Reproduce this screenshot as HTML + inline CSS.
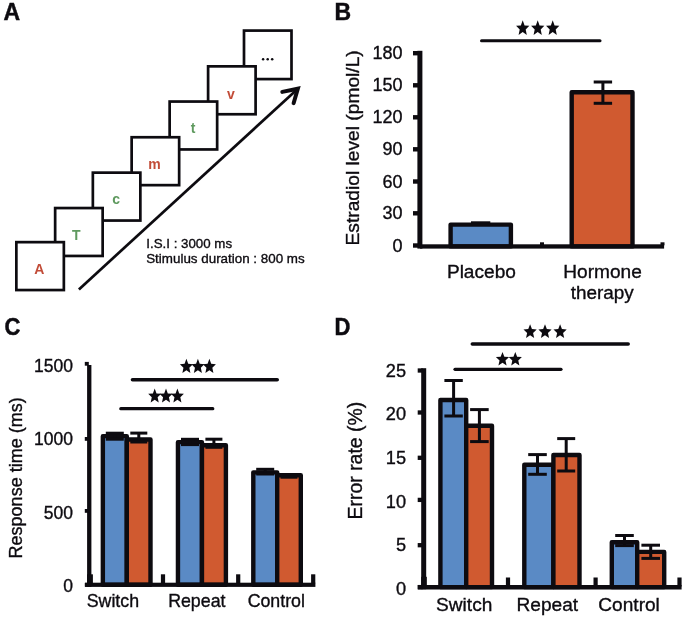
<!DOCTYPE html>
<html><head><meta charset="utf-8"><title>Figure</title>
<style>
html,body{margin:0;padding:0;background:#fff;}
body{width:685px;height:619px;overflow:hidden;}
svg{display:block;font-family:"Liberation Sans",sans-serif;will-change:transform;}
</style></head><body>
<svg width="685" height="619" viewBox="0 0 685 619">
<text font-size="23" font-weight="bold" fill="#0d0b10" stroke="#0d0b10" stroke-width="0.45" transform="translate(3.40,19.60) scale(1.000,1.000)">A</text>
<text font-size="23" font-weight="bold" fill="#0d0b10" stroke="#0d0b10" stroke-width="0.45" transform="translate(334.40,19.70) scale(1.000,1.000)">B</text>
<text font-size="22" font-weight="bold" fill="#0d0b10" stroke="#0d0b10" stroke-width="0.45" transform="translate(4.40,334.70) scale(1.000,1.100)">C</text>
<text font-size="22" font-weight="bold" fill="#0d0b10" stroke="#0d0b10" stroke-width="0.45" transform="translate(334.40,334.70) scale(1.000,1.100)">D</text>
<rect x="244.00" y="30.59" width="47.50" height="48.50" fill="#fff" stroke="#0d0b10" stroke-width="2.70"/>
<rect x="208.10" y="66.35" width="47.50" height="47.90" fill="#fff" stroke="#0d0b10" stroke-width="2.70"/>
<text x="231.00" y="98.80" font-size="14.00" text-anchor="middle" font-weight="bold" fill="#c24c38" >v</text>
<rect x="169.65" y="101.55" width="47.50" height="47.90" fill="#fff" stroke="#0d0b10" stroke-width="2.70"/>
<text x="193.10" y="133.00" font-size="14.00" text-anchor="middle" font-weight="bold" fill="#5f9a5f" >t</text>
<rect x="131.65" y="137.25" width="47.50" height="47.90" fill="#fff" stroke="#0d0b10" stroke-width="2.70"/>
<text x="154.40" y="168.80" font-size="14.00" text-anchor="middle" font-weight="bold" fill="#c24c38" >m</text>
<rect x="92.85" y="172.65" width="47.50" height="47.90" fill="#fff" stroke="#0d0b10" stroke-width="2.70"/>
<text x="116.20" y="204.20" font-size="14.00" text-anchor="middle" font-weight="bold" fill="#5f9a5f" >c</text>
<rect x="55.15" y="208.05" width="47.50" height="47.90" fill="#fff" stroke="#0d0b10" stroke-width="2.70"/>
<text x="76.40" y="239.50" font-size="14.00" text-anchor="middle" font-weight="bold" fill="#5f9a5f" >T</text>
<rect x="16.35" y="242.15" width="47.50" height="47.90" fill="#fff" stroke="#0d0b10" stroke-width="2.70"/>
<text x="39.20" y="273.80" font-size="14.00" text-anchor="middle" font-weight="bold" fill="#c24c38" >A</text>
<circle cx="263.10" cy="59.2" r="1.25" fill="#0d0b10"/>
<circle cx="267.70" cy="59.2" r="1.25" fill="#0d0b10"/>
<circle cx="272.20" cy="59.2" r="1.25" fill="#0d0b10"/>
<line x1="78.9" y1="289.4" x2="297.85" y2="88.68" stroke="#0d0b10" stroke-width="2.7" stroke-linecap="butt"/>
<polyline points="282.3,91.85 297.85,88.68 293.6,103.2" fill="none" stroke="#0d0b10" stroke-width="4" stroke-linecap="round" stroke-linejoin="miter" stroke-miterlimit="10"/>
<text x="146.30" y="247.80" font-size="13.30" text-anchor="start" font-weight="normal" fill="#0d0b10" stroke="#0d0b10" stroke-width="0.35" >I.S.I : 3000 ms</text>
<text x="146.20" y="263.00" font-size="13.40" text-anchor="start" font-weight="normal" fill="#0d0b10" stroke="#0d0b10" stroke-width="0.35" >Stimulus duration : 800 ms</text>
<rect x="450.60" y="224.60" width="60.30" height="21.80" fill="#5a8ac5" stroke="#0d0b10" stroke-width="4.40" stroke-linejoin="round"/>
<rect x="571.70" y="92.20" width="60.80" height="154.20" fill="#d05a30" stroke="#0d0b10" stroke-width="4.40" stroke-linejoin="round"/>
<line x1="602.90" y1="82.00" x2="602.90" y2="103.30" stroke="#0d0b10" stroke-width="3.00"/>
<line x1="593.70" y1="82.00" x2="612.10" y2="82.00" stroke="#0d0b10" stroke-width="3.00"/>
<line x1="593.70" y1="103.30" x2="612.10" y2="103.30" stroke="#0d0b10" stroke-width="3.00"/>
<line x1="471" y1="222.3" x2="490.3" y2="222.3" stroke="#0d0b10" stroke-width="2"/>
<rect x="417.4" y="50.8" width="5.0" height="197.8" fill="#0d0b10"/>
<rect x="420" y="244.3" width="244.1" height="4.3" fill="#0d0b10"/>
<rect x="413" y="51.00" width="6" height="4.4" fill="#0d0b10"/>
<text x="402.50" y="59.30" font-size="18.00" text-anchor="end" font-weight="normal" fill="#0d0b10" stroke="#0d0b10" stroke-width="0.35" >180</text>
<rect x="413" y="83.10" width="6" height="4.4" fill="#0d0b10"/>
<text x="402.50" y="91.40" font-size="18.00" text-anchor="end" font-weight="normal" fill="#0d0b10" stroke="#0d0b10" stroke-width="0.35" >150</text>
<rect x="413" y="115.10" width="6" height="4.4" fill="#0d0b10"/>
<text x="402.50" y="123.40" font-size="18.00" text-anchor="end" font-weight="normal" fill="#0d0b10" stroke="#0d0b10" stroke-width="0.35" >120</text>
<rect x="413" y="147.10" width="6" height="4.4" fill="#0d0b10"/>
<text x="402.50" y="155.40" font-size="18.00" text-anchor="end" font-weight="normal" fill="#0d0b10" stroke="#0d0b10" stroke-width="0.35" >90</text>
<rect x="413" y="179.30" width="6" height="4.4" fill="#0d0b10"/>
<text x="402.50" y="187.60" font-size="18.00" text-anchor="end" font-weight="normal" fill="#0d0b10" stroke="#0d0b10" stroke-width="0.35" >60</text>
<rect x="413" y="211.10" width="6" height="4.4" fill="#0d0b10"/>
<text x="402.50" y="219.40" font-size="18.00" text-anchor="end" font-weight="normal" fill="#0d0b10" stroke="#0d0b10" stroke-width="0.35" >30</text>
<rect x="413" y="243.30" width="6" height="4.4" fill="#0d0b10"/>
<text x="402.50" y="251.60" font-size="18.00" text-anchor="end" font-weight="normal" fill="#0d0b10" stroke="#0d0b10" stroke-width="0.35" >0</text>
<rect x="540" y="242.3" width="4" height="3" fill="#0d0b10"/>
<rect x="660.5" y="242.3" width="4" height="3" fill="#0d0b10"/>
<line x1="481.50" y1="40.70" x2="600.00" y2="40.70" stroke="#0d0b10" stroke-width="3.00" stroke-linecap="round"/>
<polygon points="522.70,20.20 524.55,25.40 529.35,25.85 525.69,29.52 526.81,35.00 522.70,32.06 518.59,35.00 519.71,29.52 516.05,25.85 520.85,25.40" fill="#0d0b10"/>
<polygon points="537.70,20.20 539.55,25.40 544.35,25.85 540.69,29.52 541.81,35.00 537.70,32.06 533.59,35.00 534.71,29.52 531.05,25.85 535.85,25.40" fill="#0d0b10"/>
<polygon points="552.70,20.20 554.55,25.40 559.35,25.85 555.69,29.52 556.81,35.00 552.70,32.06 548.59,35.00 549.71,29.52 546.05,25.85 550.85,25.40" fill="#0d0b10"/>
<text x="0.00" y="0.00" font-size="19.20" text-anchor="middle" font-weight="normal" fill="#0d0b10" stroke="#0d0b10" stroke-width="0.35" transform="translate(358.9,147.85) rotate(-90)">Estradiol level (pmol/L)</text>
<text x="481.40" y="277.60" font-size="19.10" text-anchor="middle" font-weight="normal" fill="#0d0b10" stroke="#0d0b10" stroke-width="0.35" >Placebo</text>
<text x="602.60" y="278.10" font-size="19.10" text-anchor="middle" font-weight="normal" fill="#0d0b10" stroke="#0d0b10" stroke-width="0.35" >Hormone</text>
<text x="602.30" y="298.80" font-size="18.90" text-anchor="middle" font-weight="normal" fill="#0d0b10" stroke="#0d0b10" stroke-width="0.35" >therapy</text>
<rect x="102.85" y="436.15" width="23.95" height="148.65" fill="#5a8ac5" stroke="#0d0b10" stroke-width="4.40" stroke-linejoin="round"/>
<rect x="126.80" y="439.45" width="23.70" height="145.35" fill="#d05a30" stroke="#0d0b10" stroke-width="4.40" stroke-linejoin="round"/>
<rect x="177.95" y="442.15" width="24.00" height="142.65" fill="#5a8ac5" stroke="#0d0b10" stroke-width="4.40" stroke-linejoin="round"/>
<rect x="201.95" y="445.25" width="23.95" height="139.55" fill="#d05a30" stroke="#0d0b10" stroke-width="4.40" stroke-linejoin="round"/>
<rect x="253.30" y="472.35" width="23.90" height="112.45" fill="#5a8ac5" stroke="#0d0b10" stroke-width="4.40" stroke-linejoin="round"/>
<rect x="277.20" y="475.25" width="23.60" height="109.55" fill="#d05a30" stroke="#0d0b10" stroke-width="4.40" stroke-linejoin="round"/>
<line x1="114.80" y1="433.20" x2="114.80" y2="439.20" stroke="#0d0b10" stroke-width="3.00"/>
<line x1="105.80" y1="433.20" x2="123.80" y2="433.20" stroke="#0d0b10" stroke-width="3.00"/>
<line x1="105.80" y1="439.20" x2="123.80" y2="439.20" stroke="#0d0b10" stroke-width="3.00"/>
<line x1="138.80" y1="433.10" x2="138.80" y2="442.00" stroke="#0d0b10" stroke-width="3.00"/>
<line x1="130.30" y1="433.10" x2="147.30" y2="433.10" stroke="#0d0b10" stroke-width="3.00"/>
<line x1="130.30" y1="442.00" x2="147.30" y2="442.00" stroke="#0d0b10" stroke-width="3.00"/>
<line x1="190.00" y1="439.30" x2="190.00" y2="444.60" stroke="#0d0b10" stroke-width="3.00"/>
<line x1="181.00" y1="439.30" x2="199.00" y2="439.30" stroke="#0d0b10" stroke-width="3.00"/>
<line x1="181.00" y1="444.60" x2="199.00" y2="444.60" stroke="#0d0b10" stroke-width="3.00"/>
<line x1="213.90" y1="439.20" x2="213.90" y2="447.30" stroke="#0d0b10" stroke-width="3.00"/>
<line x1="205.40" y1="439.20" x2="222.40" y2="439.20" stroke="#0d0b10" stroke-width="3.00"/>
<line x1="205.40" y1="447.30" x2="222.40" y2="447.30" stroke="#0d0b10" stroke-width="3.00"/>
<line x1="265.20" y1="469.30" x2="265.20" y2="474.00" stroke="#0d0b10" stroke-width="3.00"/>
<line x1="256.20" y1="469.30" x2="274.20" y2="469.30" stroke="#0d0b10" stroke-width="3.00"/>
<line x1="256.20" y1="474.00" x2="274.20" y2="474.00" stroke="#0d0b10" stroke-width="3.00"/>
<line x1="289.00" y1="475.20" x2="289.00" y2="477.20" stroke="#0d0b10" stroke-width="3.00"/>
<line x1="280.50" y1="475.20" x2="297.50" y2="475.20" stroke="#0d0b10" stroke-width="3.00"/>
<line x1="280.50" y1="477.20" x2="297.50" y2="477.20" stroke="#0d0b10" stroke-width="3.00"/>
<rect x="87.1" y="365" width="4.3" height="221.9" fill="#0d0b10"/>
<rect x="85" y="582.7" width="230.4" height="4.2" fill="#0d0b10"/>
<rect x="84.8" y="361.90" width="4" height="3.8" fill="#0d0b10"/>
<text x="73.00" y="372.30" font-size="17.50" text-anchor="end" font-weight="normal" fill="#0d0b10" stroke="#0d0b10" stroke-width="0.35" >1500</text>
<rect x="84.8" y="437.00" width="4" height="3.8" fill="#0d0b10"/>
<text x="73.00" y="445.00" font-size="17.50" text-anchor="end" font-weight="normal" fill="#0d0b10" stroke="#0d0b10" stroke-width="0.35" >1000</text>
<rect x="84.8" y="509.00" width="4" height="3.8" fill="#0d0b10"/>
<text x="73.00" y="518.50" font-size="17.50" text-anchor="end" font-weight="normal" fill="#0d0b10" stroke="#0d0b10" stroke-width="0.35" >500</text>
<rect x="84.8" y="582.90" width="4" height="3.8" fill="#0d0b10"/>
<text x="73.00" y="591.80" font-size="17.50" text-anchor="end" font-weight="normal" fill="#0d0b10" stroke="#0d0b10" stroke-width="0.35" >0</text>
<rect x="160.90" y="574.3" width="4.2" height="9" fill="#0d0b10"/>
<rect x="236.10" y="574.3" width="4.2" height="9" fill="#0d0b10"/>
<rect x="311.10" y="574.3" width="4.2" height="9" fill="#0d0b10"/>
<rect x="87.1" y="574.3" width="5.8" height="9" fill="#0d0b10"/>
<line x1="132.50" y1="379.70" x2="277.20" y2="379.70" stroke="#0d0b10" stroke-width="3.60" stroke-linecap="round"/>
<line x1="120.80" y1="408.70" x2="212.80" y2="408.70" stroke="#0d0b10" stroke-width="3.20" stroke-linecap="round"/>
<polygon points="186.40,358.80 188.21,363.79 192.90,364.22 189.33,367.74 190.42,373.00 186.40,370.18 182.38,373.00 183.47,367.74 179.90,364.22 184.59,363.79" fill="#0d0b10"/>
<polygon points="197.90,358.80 199.71,363.79 204.40,364.22 200.83,367.74 201.92,373.00 197.90,370.18 193.88,373.00 194.97,367.74 191.40,364.22 196.09,363.79" fill="#0d0b10"/>
<polygon points="209.40,358.80 211.21,363.79 215.90,364.22 212.33,367.74 213.42,373.00 209.40,370.18 205.38,373.00 206.47,367.74 202.90,364.22 207.59,363.79" fill="#0d0b10"/>
<polygon points="154.70,388.40 156.51,393.39 161.20,393.82 157.62,397.34 158.72,402.60 154.70,399.78 150.68,402.60 151.77,397.34 148.20,393.82 152.89,393.39" fill="#0d0b10"/>
<polygon points="166.00,388.40 167.81,393.39 172.50,393.82 168.93,397.34 170.02,402.60 166.00,399.78 161.98,402.60 163.07,397.34 159.50,393.82 164.19,393.39" fill="#0d0b10"/>
<polygon points="177.40,388.40 179.21,393.39 183.90,393.82 180.33,397.34 181.42,402.60 177.40,399.78 173.38,402.60 174.47,397.34 170.90,393.82 175.59,393.39" fill="#0d0b10"/>
<text x="0.00" y="0.00" font-size="18.00" text-anchor="middle" font-weight="normal" fill="#0d0b10" stroke="#0d0b10" stroke-width="0.35" transform="translate(22.3,477.9) rotate(-90)">Response time (ms)</text>
<text x="112.90" y="607.20" font-size="17.80" text-anchor="middle" font-weight="normal" fill="#0d0b10" stroke="#0d0b10" stroke-width="0.35" >Switch</text>
<text x="196.80" y="607.20" font-size="17.80" text-anchor="middle" font-weight="normal" fill="#0d0b10" stroke="#0d0b10" stroke-width="0.35" >Repeat</text>
<text x="276.30" y="607.20" font-size="17.80" text-anchor="middle" font-weight="normal" fill="#0d0b10" stroke="#0d0b10" stroke-width="0.35" >Control</text>
<rect x="440.40" y="400.00" width="25.80" height="187.10" fill="#5a8ac5" stroke="#0d0b10" stroke-width="4.40" stroke-linejoin="round"/>
<rect x="466.20" y="425.70" width="25.80" height="161.40" fill="#d05a30" stroke="#0d0b10" stroke-width="4.40" stroke-linejoin="round"/>
<rect x="524.30" y="464.70" width="29.10" height="122.40" fill="#5a8ac5" stroke="#0d0b10" stroke-width="4.40" stroke-linejoin="round"/>
<rect x="553.40" y="455.00" width="26.10" height="132.10" fill="#d05a30" stroke="#0d0b10" stroke-width="4.40" stroke-linejoin="round"/>
<rect x="611.80" y="542.30" width="25.40" height="44.80" fill="#5a8ac5" stroke="#0d0b10" stroke-width="4.40" stroke-linejoin="round"/>
<rect x="637.20" y="551.90" width="27.00" height="35.20" fill="#d05a30" stroke="#0d0b10" stroke-width="4.40" stroke-linejoin="round"/>
<line x1="453.60" y1="380.50" x2="453.60" y2="416.00" stroke="#0d0b10" stroke-width="3.00"/>
<line x1="444.40" y1="380.50" x2="462.80" y2="380.50" stroke="#0d0b10" stroke-width="3.00"/>
<line x1="444.40" y1="416.00" x2="462.80" y2="416.00" stroke="#0d0b10" stroke-width="3.00"/>
<line x1="479.40" y1="409.60" x2="479.40" y2="441.60" stroke="#0d0b10" stroke-width="3.00"/>
<line x1="470.10" y1="409.60" x2="488.70" y2="409.60" stroke="#0d0b10" stroke-width="3.00"/>
<line x1="470.10" y1="441.60" x2="488.70" y2="441.60" stroke="#0d0b10" stroke-width="3.00"/>
<line x1="537.50" y1="454.60" x2="537.50" y2="474.30" stroke="#0d0b10" stroke-width="3.00"/>
<line x1="528.20" y1="454.60" x2="546.80" y2="454.60" stroke="#0d0b10" stroke-width="3.00"/>
<line x1="528.20" y1="474.30" x2="546.80" y2="474.30" stroke="#0d0b10" stroke-width="3.00"/>
<line x1="566.20" y1="438.60" x2="566.20" y2="471.00" stroke="#0d0b10" stroke-width="3.00"/>
<line x1="557.20" y1="438.60" x2="575.20" y2="438.60" stroke="#0d0b10" stroke-width="3.00"/>
<line x1="557.20" y1="471.00" x2="575.20" y2="471.00" stroke="#0d0b10" stroke-width="3.00"/>
<line x1="624.50" y1="535.50" x2="624.50" y2="545.60" stroke="#0d0b10" stroke-width="3.00"/>
<line x1="615.20" y1="535.50" x2="633.80" y2="535.50" stroke="#0d0b10" stroke-width="3.00"/>
<line x1="615.20" y1="545.60" x2="633.80" y2="545.60" stroke="#0d0b10" stroke-width="3.00"/>
<line x1="650.70" y1="545.20" x2="650.70" y2="558.40" stroke="#0d0b10" stroke-width="3.00"/>
<line x1="641.40" y1="545.20" x2="660.00" y2="545.20" stroke="#0d0b10" stroke-width="3.00"/>
<line x1="641.40" y1="558.40" x2="660.00" y2="558.40" stroke="#0d0b10" stroke-width="3.00"/>
<rect x="421.2" y="368.2" width="5" height="221" fill="#0d0b10"/>
<rect x="417.8" y="585.0" width="263.8" height="4.5" fill="#0d0b10"/>
<rect x="417.7" y="368.35" width="5" height="4.3" fill="#0d0b10"/>
<text x="406.00" y="377.10" font-size="18.20" text-anchor="end" font-weight="normal" fill="#0d0b10" stroke="#0d0b10" stroke-width="0.35" >25</text>
<rect x="417.7" y="410.35" width="5" height="4.3" fill="#0d0b10"/>
<text x="406.00" y="420.10" font-size="18.20" text-anchor="end" font-weight="normal" fill="#0d0b10" stroke="#0d0b10" stroke-width="0.35" >20</text>
<rect x="417.7" y="455.65" width="5" height="4.3" fill="#0d0b10"/>
<text x="406.00" y="464.20" font-size="18.20" text-anchor="end" font-weight="normal" fill="#0d0b10" stroke="#0d0b10" stroke-width="0.35" >15</text>
<rect x="417.7" y="497.75" width="5" height="4.3" fill="#0d0b10"/>
<text x="406.00" y="507.60" font-size="18.20" text-anchor="end" font-weight="normal" fill="#0d0b10" stroke="#0d0b10" stroke-width="0.35" >10</text>
<rect x="417.7" y="543.05" width="5" height="4.3" fill="#0d0b10"/>
<text x="406.00" y="551.40" font-size="18.20" text-anchor="end" font-weight="normal" fill="#0d0b10" stroke="#0d0b10" stroke-width="0.35" >5</text>
<rect x="417.7" y="584.95" width="5" height="4.3" fill="#0d0b10"/>
<text x="406.00" y="594.60" font-size="18.20" text-anchor="end" font-weight="normal" fill="#0d0b10" stroke="#0d0b10" stroke-width="0.35" >0</text>
<rect x="505.90" y="577.5" width="4.2" height="9" fill="#0d0b10"/>
<rect x="593.50" y="577.5" width="4.2" height="9" fill="#0d0b10"/>
<rect x="677.40" y="577.5" width="4.2" height="9" fill="#0d0b10"/>
<rect x="421.2" y="576.8" width="5.6" height="9" fill="#0d0b10"/>
<line x1="472.30" y1="343.90" x2="628.20" y2="343.90" stroke="#0d0b10" stroke-width="3.50" stroke-linecap="round"/>
<line x1="455.00" y1="369.30" x2="561.00" y2="369.30" stroke="#0d0b10" stroke-width="3.20" stroke-linecap="round"/>
<polygon points="530.10,324.20 531.94,329.05 536.70,329.47 533.07,332.89 534.18,338.00 530.10,335.26 526.02,338.00 527.13,332.89 523.50,329.47 528.26,329.05" fill="#0d0b10"/>
<polygon points="545.00,324.20 546.84,329.05 551.60,329.47 547.97,332.89 549.08,338.00 545.00,335.26 540.92,338.00 542.03,332.89 538.40,329.47 543.16,329.05" fill="#0d0b10"/>
<polygon points="560.10,324.20 561.94,329.05 566.70,329.47 563.07,332.89 564.18,338.00 560.10,335.26 556.02,338.00 557.13,332.89 553.50,329.47 558.26,329.05" fill="#0d0b10"/>
<polygon points="502.50,351.90 504.34,356.68 509.10,357.09 505.47,360.46 506.58,365.50 502.50,362.80 498.42,365.50 499.53,360.46 495.90,357.09 500.66,356.68" fill="#0d0b10"/>
<polygon points="515.30,351.90 517.14,356.68 521.90,357.09 518.27,360.46 519.38,365.50 515.30,362.80 511.22,365.50 512.33,360.46 508.70,357.09 513.46,356.68" fill="#0d0b10"/>
<text x="0.00" y="0.00" font-size="19.45" text-anchor="middle" font-weight="normal" fill="#0d0b10" stroke="#0d0b10" stroke-width="0.35" transform="translate(361.9,460.6) rotate(-90)">Error rate (%)</text>
<text x="464.20" y="610.80" font-size="19.10" text-anchor="middle" font-weight="normal" fill="#0d0b10" stroke="#0d0b10" stroke-width="0.35" >Switch</text>
<text x="547.30" y="610.80" font-size="19.10" text-anchor="middle" font-weight="normal" fill="#0d0b10" stroke="#0d0b10" stroke-width="0.35" >Repeat</text>
<text x="629.10" y="610.80" font-size="19.10" text-anchor="middle" font-weight="normal" fill="#0d0b10" stroke="#0d0b10" stroke-width="0.35" >Control</text>
</svg>
</body></html>
